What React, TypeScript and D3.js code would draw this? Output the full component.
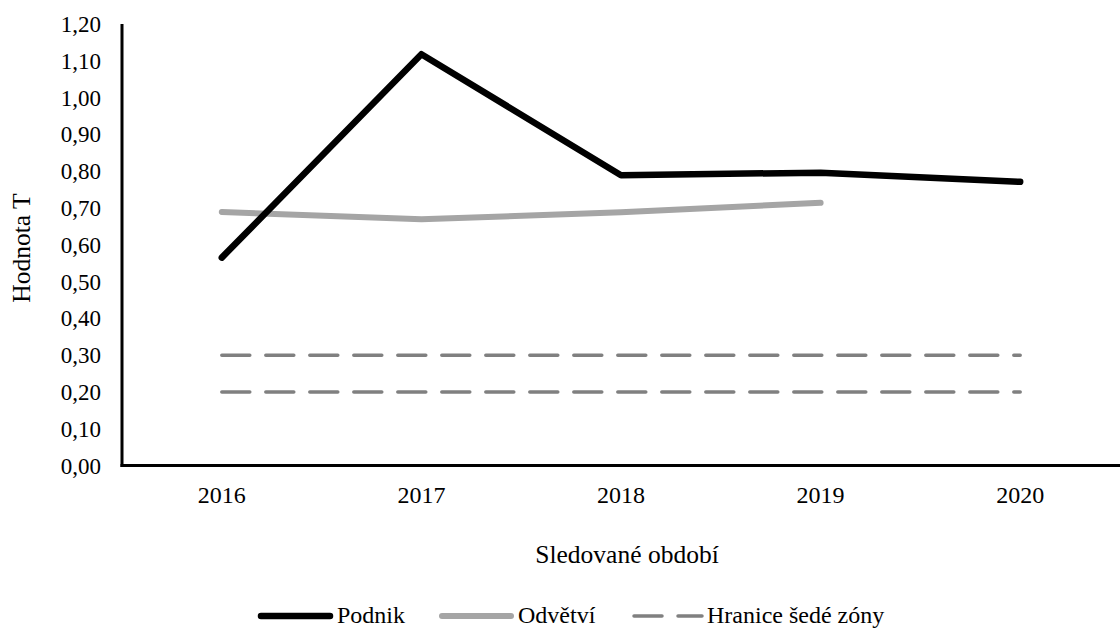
import React from "react";
import * as d3 from "d3";

const years = ["2016", "2017", "2018", "2019", "2020"];
const podnik = [0.565, 1.118, 0.789, 0.796, 0.771];
const odvetvi = [0.689, 0.669, 0.688, 0.714];
const hraniceHorni = [0.3, 0.3, 0.3, 0.3, 0.3];
const hraniceDolni = [0.2, 0.2, 0.2, 0.2, 0.2];
const yTicks = [0, 0.1, 0.2, 0.3, 0.4, 0.5, 0.6, 0.7, 0.8, 0.9, 1.0, 1.1, 1.2];
const legendLabels = ["Podnik", "Odvětví", "Hranice šedé zóny"];

const W = 1120;
const H = 628;
const left = 122;
const right = 1120;
const top = 24;
const bottom = 465.5;
const FONT = '"Liberation Serif", "Times New Roman", "DejaVu Serif", serif';
const yTickStyle: React.CSSProperties = { fontFamily: FONT, fontSize: 23 };
const xTickStyle: React.CSSProperties = { fontFamily: FONT, fontSize: 24 };
const titleStyle: React.CSSProperties = { fontFamily: FONT, fontSize: 25.5 };
const legendStyle: React.CSSProperties = { fontFamily: FONT, fontSize: 24 };

export default function App() {
  const x = d3.scaleBand<string>().domain(years).range([left, right]).padding(0);
  const y = d3.scaleLinear().domain([0, 1.2]).range([bottom, top]);
  const cx = (i: number) => (x(years[i]) as number) + x.bandwidth() / 2;
  const line = d3
    .line<number>()
    .x((_, i) => cx(i))
    .y((d) => y(d));

  const fmt = (v: number) => v.toFixed(2).replace(".", ",");

  return (
    <svg
      width={W}
      height={H}
      style={{ position: "absolute", left: 0, top: 0, background: "#fff", fontFamily: FONT }}
    >
      {yTicks.map((t) => (
        <text key={t} x={101} y={y(t)} dy="0.35em" textAnchor="end" style={yTickStyle} fill="#000">
          {fmt(t)}
        </text>
      ))}
      {years.map((yr, i) => (
        <text key={yr} x={cx(i)} y={503} textAnchor="middle" style={xTickStyle} fill="#000">
          {yr}
        </text>
      ))}
      <text x={627} y={563} textAnchor="middle" style={titleStyle} fill="#000">
        Sledované období
      </text>
      <text transform={`translate(30, 248) rotate(-90)`} textAnchor="middle" style={titleStyle} fill="#000">
        Hodnota T
      </text>

      <path
        d={line(hraniceHorni) || ""}
        fill="none"
        stroke="#808080"
        strokeWidth={3.5}
        strokeDasharray="28 16"
        strokeLinecap="round"
      />
      <path
        d={line(hraniceDolni) || ""}
        fill="none"
        stroke="#808080"
        strokeWidth={3.5}
        strokeDasharray="28 16"
        strokeLinecap="round"
      />
      <path
        d={line(odvetvi) || ""}
        fill="none"
        stroke="#A5A5A5"
        strokeWidth={6}
        strokeLinecap="round"
        strokeLinejoin="round"
      />
      <path
        d={line(podnik) || ""}
        fill="none"
        stroke="#000"
        strokeWidth={6.5}
        strokeLinecap="round"
        strokeLinejoin="round"
      />

      <line x1={left} x2={left} y1={top} y2={bottom + 1.5} stroke="#000" strokeWidth={3} />
      <line x1={left - 1.5} x2={right} y1={bottom} y2={bottom} stroke="#000" strokeWidth={3} />

      <line x1={261} x2={330} y1={616} y2={616} stroke="#000" strokeWidth={6.5} strokeLinecap="round" />
      <text x={337} y={623} style={legendStyle} fill="#000">{legendLabels[0]}</text>
      <line x1={442} x2={511} y1={616} y2={616} stroke="#A5A5A5" strokeWidth={6} strokeLinecap="round" />
      <text x={518} y={623} style={legendStyle} fill="#000">{legendLabels[1]}</text>
      <line
        x1={634}
        x2={702}
        y1={616}
        y2={616}
        stroke="#808080"
        strokeWidth={3.5}
        strokeDasharray="28 16"
        strokeLinecap="round"
      />
      <text x={707} y={623} style={legendStyle} fill="#000">{legendLabels[2]}</text>
    </svg>
  );
}
